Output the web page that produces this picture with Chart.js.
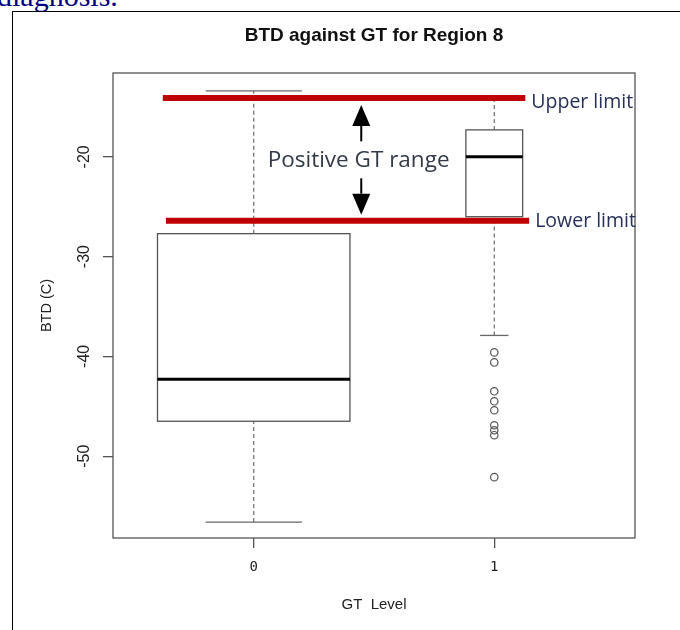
<!DOCTYPE html>
<html>
<head>
<meta charset="utf-8">
<script src="https://cdn.jsdelivr.net/npm/chart.js@4.4.1/dist/chart.umd.min.js"></script>
<style>
    html, body { margin: 0; padding: 0; background: #fff; }
    body { width: 680px; height: 630px; position: relative; overflow: hidden; }
    .prev-text {
        position: absolute; left: -3px; top: -19px;
        font-family: "Liberation Serif", serif; font-size: 30px; line-height: 30px;
        color: #00007f; white-space: nowrap;
    }
    .frame {
        position: absolute; left: 12px; top: 11px; width: 720px; height: 700px;
        border-left: 1.5px solid #000; border-top: 1.5px solid #000;
    }
    #wrap { position: absolute; left: 0; top: 0; width: 680px; height: 630px; }
</style>
</head>
<body>
<div class="prev-text">diagnosis.</div>
<div class="frame"></div>
<div id="wrap"><canvas id="boxChart" width="680" height="630"></canvas></div>

<script>
// Boxplot summary per GT level
const gtLevels = [0, 1];
const gtLabels = ['0', '1'];
const whiskerLow = [-56.6, -37.9];
const quartile1 = [-46.5, -26.0];
const medians = [-42.3, -20.0];
const quartile3 = [-27.7, -17.3];
const whiskerHigh = [-13.4, -14.2];

// Outliers (all at GT level 1)
const outlierLevel = [1, 1, 1, 1, 1, 1, 1, 1, 1];
const outlierValues = [-39.6, -40.6, -43.5, -44.5, -45.4, -46.9, -47.4, -47.9, -52.1];

// Positive GT range limits
const limitValues = [-14.1, -26.4];
const limitLabels = ['Upper limit', 'Lower limit'];

const yTicks = [-50, -40, -30, -20];

// --- layout / style ---
const boxHalfWidth = [0.4, 0.118];          // varwidth boxes
const limitStart = [-0.378, -0.365];
const limitEnd = [1.129, 1.145];
const limitLabelShift = [4, 1];              // px below the line centre
const rangeLabelX = 0.436;
const arrowX = 0.447;
const axisColor = '#555';
const sansFont = "'Liberation Sans', Arial, sans-serif";
const noteFont = "'Open Sans', 'Noto Sans', sans-serif";

function strokeLine(ctx, x1, y1, x2, y2) {
    ctx.beginPath();
    ctx.moveTo(x1, y1);
    ctx.lineTo(x2, y2);
    ctx.stroke();
}

// Draws frame, whiskers, boxes and medians from the arrays above
const boxplotPlugin = {
    id: 'boxplot',
    beforeDatasetsDraw(chart) {
        const { ctx, chartArea, scales: { x, y } } = chart;
        ctx.save();

        // plot frame
        ctx.strokeStyle = axisColor;
        ctx.lineWidth = 1.3;
        ctx.strokeRect(chartArea.left, chartArea.top,
            chartArea.right - chartArea.left, chartArea.bottom - chartArea.top);

        gtLevels.forEach((lvl, i) => {
            const cx = x.getPixelForValue(lvl);
            const left = x.getPixelForValue(lvl - boxHalfWidth[i]);
            const right = x.getPixelForValue(lvl + boxHalfWidth[i]);
            const capL = x.getPixelForValue(lvl - boxHalfWidth[i] / 2);
            const capR = x.getPixelForValue(lvl + boxHalfWidth[i] / 2);
            const yLow = y.getPixelForValue(whiskerLow[i]);
            const yQ1 = y.getPixelForValue(quartile1[i]);
            const yMed = y.getPixelForValue(medians[i]);
            const yQ3 = y.getPixelForValue(quartile3[i]);
            const yHigh = y.getPixelForValue(whiskerHigh[i]);

            // dashed whiskers
            ctx.strokeStyle = '#777';
            ctx.lineWidth = 1.3;
            ctx.setLineDash([4, 3]);
            strokeLine(ctx, cx, yLow, cx, yQ1);
            strokeLine(ctx, cx, yQ3, cx, yHigh);
            ctx.setLineDash([]);

            // whisker caps
            ctx.strokeStyle = '#666';
            strokeLine(ctx, capL, yLow, capR, yLow);
            strokeLine(ctx, capL, yHigh, capR, yHigh);

            // box
            ctx.strokeStyle = axisColor;
            ctx.lineWidth = 1.3;
            ctx.strokeRect(left, yQ3, right - left, yQ1 - yQ3);

            // median
            ctx.strokeStyle = '#000';
            ctx.lineWidth = 3;
            strokeLine(ctx, left, yMed, right, yMed);
        });
        ctx.restore();
    }
};

// Limit labels, "Positive GT range" note and arrows
const notesPlugin = {
    id: 'notes',
    afterDatasetsDraw(chart) {
        const { ctx, scales: { x, y } } = chart;
        ctx.save();
        ctx.textBaseline = 'middle';

        ctx.fillStyle = '#26305a';
        ctx.font = "19.5px " + noteFont;
        ctx.textAlign = 'left';
        limitLabels.forEach((label, i) => {
            ctx.fillText(label, x.getPixelForValue(limitEnd[i]) + 6,
                y.getPixelForValue(limitValues[i]) + limitLabelShift[i]);
        });

        ctx.fillStyle = '#333a48';
        ctx.font = "22.5px " + noteFont;
        ctx.textAlign = 'center';
        const midValue = (limitValues[0] + limitValues[1]) / 2;
        ctx.fillText('Positive GT range', x.getPixelForValue(rangeLabelX),
            y.getPixelForValue(midValue) + 1);

        // arrows pointing at both limits
        const ax = x.getPixelForValue(arrowX);
        const yUp = y.getPixelForValue(limitValues[0]);
        const yDown = y.getPixelForValue(limitValues[1]);
        const yMid = y.getPixelForValue(midValue);
        const drawArrow = (fromY, tipY) => {
            const dir = Math.sign(tipY - fromY);
            const baseY = tipY - dir * 21;
            ctx.strokeStyle = '#000';
            ctx.lineWidth = 2;
            strokeLine(ctx, ax, fromY, ax, baseY);
            ctx.fillStyle = '#000';
            ctx.beginPath();
            ctx.moveTo(ax, tipY);
            ctx.lineTo(ax - 9, baseY);
            ctx.lineTo(ax + 9, baseY);
            ctx.closePath();
            ctx.fill();
        };
        drawArrow(yMid - 18, yUp + 7);
        drawArrow(yMid + 19, yDown - 6);
        ctx.restore();
    }
};

const limitDatasets = limitValues.map((v, i) => ({
    type: 'line',
    data: [{ x: limitStart[i], y: v }, { x: limitEnd[i], y: v }],
    borderColor: '#c00000',
    borderWidth: 6,
    borderCapStyle: 'butt',
    pointRadius: 0
}));

const outlierDataset = {
    type: 'scatter',
    data: outlierLevel.map((lvl, i) => ({ x: lvl, y: outlierValues[i] })),
    pointRadius: 3.7,
    pointBorderWidth: 1.2,
    borderColor: '#555',
    backgroundColor: 'rgba(0,0,0,0)'
};

const ctx = document.getElementById('boxChart').getContext('2d');
new Chart(ctx, {
    type: 'scatter',
    data: { datasets: [outlierDataset, ...limitDatasets] },
    options: {
        responsive: false,
        animation: false,
        devicePixelRatio: 1,
        layout: { padding: { top: 2, right: 45, bottom: 0, left: 0 } },
        plugins: {
            legend: { display: false },
            tooltip: { enabled: false },
            title: {
                display: true,
                text: 'BTD against GT for Region 8',
                fullSize: false,
                color: '#111',
                font: { family: sansFont, size: 19, weight: 'bold' },
                padding: { top: 22.6, bottom: 25.6 }
            }
        },
        scales: {
            x: {
                type: 'linear',
                min: -0.585,
                max: 1.585,
                afterBuildTicks: (s) => { s.ticks = gtLevels.map(v => ({ value: v })); },
                afterFit: (s) => { s.height = 92; },
                border: { display: false },
                grid: { drawOnChartArea: false, tickLength: 10, color: axisColor, tickColor: axisColor, lineWidth: 1.3 },
                ticks: {
                    callback: (v) => gtLabels[gtLevels.indexOf(v)],
                    maxRotation: 0,
                    padding: 11,
                    color: '#222',
                    font: { family: "'DejaVu Sans Mono', monospace", size: 14 }
                },
                title: {
                    display: true,
                    text: 'GT  Level',
                    color: '#222',
                    font: { family: sansFont, size: 15 },
                    padding: { bottom: 16 }
                }
            },
            y: {
                min: -58.2,
                max: -11.6,
                afterBuildTicks: (s) => { s.ticks = yTicks.map(v => ({ value: v })); },
                afterFit: (s) => { s.width = 113; },
                border: { display: false },
                grid: { drawOnChartArea: false, tickLength: 10, color: axisColor, tickColor: axisColor, lineWidth: 1.3 },
                ticks: {
                    minRotation: 90,
                    maxRotation: 90,
                    crossAlign: 'center',
                    padding: 6.5,
                    color: '#222',
                    font: { family: sansFont, size: 16 }
                },
                title: {
                    display: true,
                    text: 'BTD (C)',
                    color: '#222',
                    font: { family: sansFont, size: 14.5 },
                    padding: { top: 38 }
                }
            }
        }
    },
    plugins: [boxplotPlugin, notesPlugin]
});
</script>
</body>
</html>
